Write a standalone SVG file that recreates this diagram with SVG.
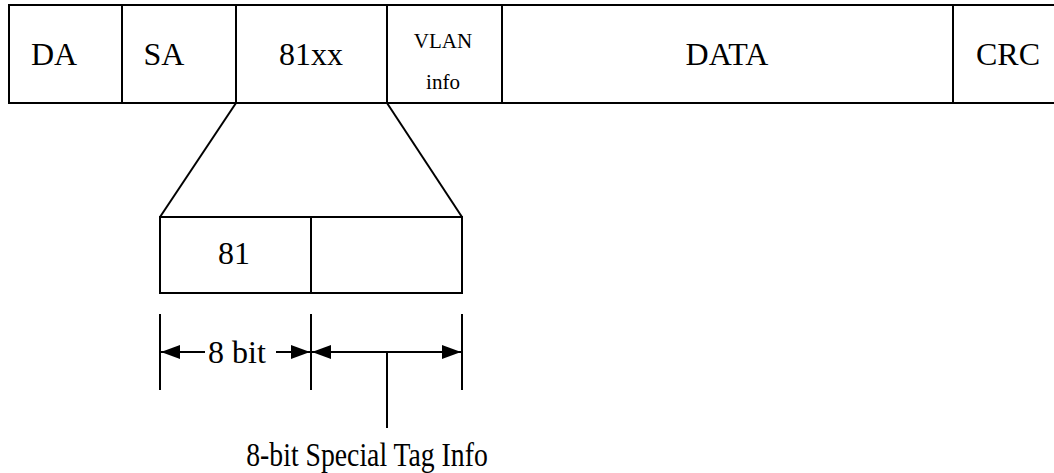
<svg xmlns="http://www.w3.org/2000/svg" width="1054" height="473" viewBox="0 0 1054 473">
<style>
.ln{stroke:#000;stroke-width:2;fill:none}
.t{font-family:"Liberation Serif","Times New Roman",serif;fill:#000;text-anchor:middle}
</style>
<defs>
<marker id="ah" viewBox="0 0 19 14" refX="19" refY="7" markerWidth="19" markerHeight="14" markerUnits="userSpaceOnUse" orient="auto-start-reverse">
<path d="M0,0 L19,7 L0,14 Z" fill="#000"/>
</marker>
</defs>
<rect width="1054" height="473" fill="#fff"/>
<g id="frame">
<path class="ln" d="M1054,5 H9 V103 H1054"/>
</g>
<g id="f-da"><text class="t" x="54" y="65" font-size="32">DA</text></g>
<g id="f-sa"><line class="ln" x1="122" y1="5" x2="122" y2="103"/><text class="t" x="164" y="65" font-size="32">SA</text></g>
<g id="f-81xx"><line class="ln" x1="236" y1="5" x2="236" y2="103"/><text class="t" x="311" y="65" font-size="32">81xx</text></g>
<g id="f-vlan"><line class="ln" x1="387" y1="5" x2="387" y2="103"/><text class="t" x="443" y="48" font-size="21">VLAN</text><text class="t" x="443" y="89" font-size="21">info</text></g>
<g id="f-data"><line class="ln" x1="502" y1="5" x2="502" y2="103"/><text class="t" x="727" y="65" font-size="32">DATA</text></g>
<g id="f-crc"><line class="ln" x1="953" y1="5" x2="953" y2="103"/><text class="t" x="1008" y="65" font-size="32">CRC</text></g>
<g id="sub">
<rect class="ln" x="160" y="217" width="302" height="76"/>
<line class="ln" x1="311" y1="217" x2="311" y2="293"/>
<text class="t" x="234" y="264" font-size="32">81</text>
</g>
<g id="connectors">
<line class="ln" x1="236" y1="103" x2="160" y2="217"/>
<line class="ln" x1="387" y1="103" x2="462" y2="217"/>
<line class="ln" x1="160" y1="314" x2="160" y2="390"/>
<line class="ln" x1="311" y1="314" x2="311" y2="390"/>
<line class="ln" x1="462" y1="314" x2="462" y2="390"/>
<line class="ln" x1="205" y1="352" x2="161" y2="352" marker-end="url(#ah)"/>
<line class="ln" x1="276" y1="352" x2="310" y2="352" marker-end="url(#ah)"/>
<line class="ln" x1="312" y1="352" x2="461" y2="352" marker-start="url(#ah)" marker-end="url(#ah)"/>
<line class="ln" x1="387" y1="352" x2="387" y2="428"/>
</g>
<g id="labels">
<text class="t" x="237" y="363" font-size="32">8 bit</text>
<text class="t" transform="translate(367,466) scale(0.84,1)" font-size="33">8-bit Special Tag Info</text>
</g>
</svg>
